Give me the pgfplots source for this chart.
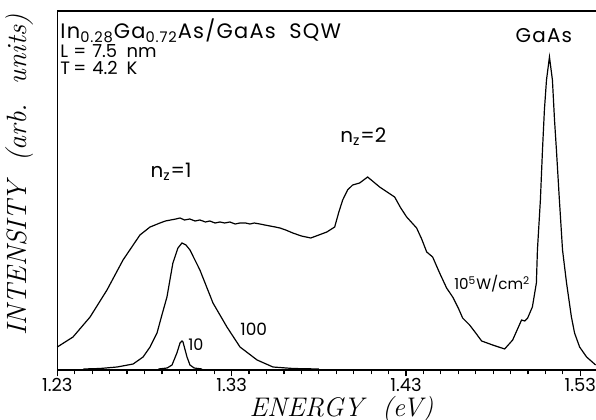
\documentclass[border=0pt]{standalone}
\usepackage{pgfplots}
\pgfplotsset{compat=1.18}
\usepackage{fontspec}
\newfontfamily\gfont{Poppins}
\newfontfamily\gfontw{Poppins}[LetterSpace=6]
\begin{document}
\begin{tikzpicture}
\useasboundingbox (-28.65bp,-25bp) rectangle (269.35bp,185bp);
\begin{axis}[
  at={(0,0)}, anchor=south west, scale only axis,
  width=269.35bp, height=179.5bp,
  xmin=1.23, xmax=1.539, ymin=0, ymax=359,
  axis x line=box, axis y line=left,
  y axis line style={-}, x axis line style={-},
  every inner y axis line/.append style={-},
  axis line style={line width=0.6bp},
  ytick=\empty,
  xtick={1.23,1.33,1.43,1.53},
  xticklabels={1.23,1.33,1.43,1.53},
  minor x tick num=9,
  xtick pos=bottom,
  tick align=outside,
  major tick length=3.2bp, minor tick length=2.2bp,
  tick style={line width=0.6bp, black},
  xticklabel style={font=\gfont\fontsize{9}{10}\selectfont, inner sep=0.5bp},
  clip=false,
]
% 10^5 W/cm^2
\addplot[black, line width=0.6bp] coordinates {
(1.2300,23) (1.2390,33) (1.2488,53) (1.2585,80) (1.2677,110) (1.2774,135)
(1.2832,143) (1.2889,147) (1.2920,149) (1.2950,150) (1.2980,151) (1.3004,152)
(1.3030,150) (1.3060,151) (1.3090,149) (1.3118,150) (1.3150,148) (1.3175,149)
(1.3205,147) (1.3233,148) (1.3260,147) (1.3290,148) (1.3320,146) (1.3348,147)
(1.3380,147) (1.3405,146) (1.3430,147) (1.3462,146) (1.3490,145) (1.3520,144)
(1.3550,143) (1.3577,142) (1.3610,140) (1.3651,137) (1.3700,134) (1.3754,132)
(1.3800,135) (1.3846,138) (1.3891,143) (1.3915,158) (1.3937,170) (1.3965,180)
(1.3994,185) (1.4034,187) (1.4080,193) (1.4149,183) (1.4235,173) (1.4270,162)
(1.4304,153) (1.4361,142) (1.4390,131) (1.4419,118) (1.4453,113) (1.4493,97)
(1.4533,82) (1.4568,73) (1.4600,62) (1.4625,52) (1.4665,45) (1.4700,37)
(1.4734,29) (1.4797,25) (1.4866,21) (1.4912,30) (1.4963,50) (1.4981,49)
(1.4998,52) (1.5025,63) (1.5048,87) (1.5054,120) (1.5071,170) (1.5083,220)
(1.5094,260) (1.5106,290) (1.5123,313) (1.5140,290) (1.5152,250) (1.5163,220)
(1.5180,170) (1.5198,120) (1.5221,87) (1.5249,53) (1.5267,37) (1.5296,23)
(1.5336,13) (1.5388,5)
};
% 100
\addplot[black, line width=0.6bp] coordinates {
(1.2450,1) (1.2545,1.5) (1.2643,3) (1.2735,6) (1.2792,13) (1.2832,23)
(1.2872,37) (1.2900,55) (1.2929,73) (1.2963,107) (1.2992,122) (1.3015,127)
(1.3038,125) (1.3061,120) (1.3118,100) (1.3193,67) (1.3273,43) (1.3348,23)
(1.3446,10) (1.3537,3) (1.3652,1.5) (1.3800,1)
};
% 10
\addplot[black, line width=0.6bp] coordinates {
(1.2880,1) (1.2930,2) (1.2958,5) (1.2986,17) (1.3004,27) (1.3015,29)
(1.3021,28) (1.3044,13) (1.3061,5) (1.3085,2) (1.3130,1)
};
% annotations
\node[anchor=base west, inner sep=0pt, font=\gfontw\fontsize{10.5}{12}\selectfont] at (axis cs:1.2316,331) {In\textsubscript{0.28}Ga\textsubscript{0.72}As/GaAs\ \ SQW};
\node[anchor=base west, inner sep=0pt, font=\gfont\fontsize{9}{11}\selectfont] at (axis cs:1.2316,312) {L};
\node[anchor=base west, inner sep=0pt, font=\gfont\fontsize{9}{11}\selectfont] at (axis cs:1.2390,312) {=};
\node[anchor=base west, inner sep=0pt, font=\gfont\fontsize{9}{11}\selectfont] at (axis cs:1.2499,312) {7.5};
\node[anchor=base west, inner sep=0pt, font=\gfont\fontsize{9}{11}\selectfont] at (axis cs:1.2695,312) {nm};
\node[anchor=base west, inner sep=0pt, font=\gfont\fontsize{9}{11}\selectfont] at (axis cs:1.2316,295) {T};
\node[anchor=base west, inner sep=0pt, font=\gfont\fontsize{9}{11}\selectfont] at (axis cs:1.2390,295) {=};
\node[anchor=base west, inner sep=0pt, font=\gfont\fontsize{9}{11}\selectfont] at (axis cs:1.2499,295) {4.2};
\node[anchor=base west, inner sep=0pt, font=\gfont\fontsize{9}{11}\selectfont] at (axis cs:1.2695,295) {K};
\node[anchor=base, inner sep=0pt, font=\gfontw\fontsize{10}{12}\selectfont] at (axis cs:1.5091,327) {GaAs};
\node[anchor=base west, inner sep=0pt, font=\gfont\fontsize{10}{12}\selectfont] at (axis cs:1.2833,192) {n\textsubscript{z}=1};
\node[anchor=base west, inner sep=0pt, font=\gfont\fontsize{10}{12}\selectfont] at (axis cs:1.3921,227) {n\textsubscript{z}=2};
\node[anchor=base west, inner sep=0pt, font=\gfont\fontsize{8.5}{10}\selectfont] at (axis cs:1.3348,35) {100};
\node[anchor=base west, inner sep=0pt, font=\gfont\fontsize{8}{10}\selectfont] at (axis cs:1.3049,20) {10};
\node[anchor=base west, inner sep=0pt, font=\gfont\fontsize{7.6}{10}\selectfont] at (axis cs:1.4575,80) {10\textsuperscript{5}W/cm\textsuperscript{2}};
% axis labels
\node[anchor=center, inner sep=0pt, font=\itshape\fontsize{13.5}{16}\selectfont\addfontfeatures{LetterSpace=10}] at (axis cs:1.3930,-40) {ENERGY\ \ (eV)};
\node[anchor=center, rotate=90, inner sep=0pt, font=\itshape\fontsize{14}{16}\selectfont\addfontfeatures{LetterSpace=5}] at (axis cs:1.2086,195) {INTENSITY\ \ (arb.\ \ units)};
\end{axis}
\end{tikzpicture}
\end{document}
